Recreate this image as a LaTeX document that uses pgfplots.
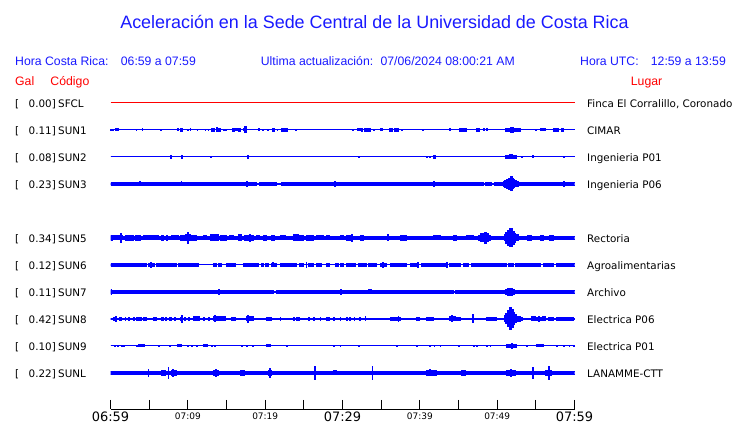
\documentclass[border=0pt]{standalone}
\usepackage{fontspec}
\setmainfont{Liberation Sans}
\newfontfamily\dv{DejaVu Sans}
\usepackage{pgfplots}
\usepackage{pgfplotstable}
\pgfplotsset{compat=1.18}
\usepgfplotslibrary{fillbetween}
\definecolor{tr}{RGB}{0,0,255}
\definecolor{hb}{RGB}{25,25,255}
\definecolor{hr}{RGB}{255,0,0}

% envelope of each record: t = minutes after 06:59, a = half width (px)
\pgfplotstableread[row sep=\\]{t a\\ 0 0\\ 60 0\\}\tsfcl
\pgfplotstableread[row sep=\\]{t a\\ 0 0\\ 0.05 0.6\\ 0.15 0\\ 0.3 0.6\\ 0.4 0\\ 0.62 1.0\\ 1.06 0\\ 3.3 0.7\\ 3.4 0\\ 4.1 1.0\\ 4.2 0\\ 6.44 0.7\\ 6.54 0\\ 8.7 1.0\\ 8.8 0\\ 9.03 1.2\\ 9.25 0\\ 9.93 0.7\\ 10.03 0\\ 10.28 1.0\\ 10.38 0\\ 11.19 0.7\\ 11.29 0\\ 12.22 0.6\\ 12.32 0\\ 12.61 0.6\\ 12.71 0\\ 13.12 1.2\\ 13.47 0\\ 13.73 2.0\\ 13.86 1.3\\ 14.25 0\\ 14.63 0.6\\ 14.73 0\\ 14.85 0.6\\ 14.95 0\\ 15.75 1.5\\ 15.97 0\\ 16.14 1.0\\ 16.36 0\\ 16.49 1.3\\ 16.75 0\\ 17.18 1.0\\ 17.39 3.0\\ 17.65 0\\ 19.16 1.0\\ 19.26 0\\ 19.63 0.7\\ 19.73 0\\ 20.28 0.7\\ 20.38 0\\ 21.01 1.2\\ 21.27 0\\ 21.53 0.7\\ 21.63 0\\ 22.13 1.2\\ 22.87 0\\ 23.94 0.6\\ 24.04 0\\ 31.27 0.6\\ 31.37 0\\ 32.0 1.0\\ 32.27 0\\ 32.52 1.3\\ 32.62 0\\ 32.87 1.2\\ 33.56 0\\ 33.99 0.7\\ 34.09 0\\ 34.94 1.0\\ 35.2 0\\ 36.06 1.2\\ 36.49 0\\ 36.7 1.2\\ 37.27 0\\ 37.65 0.6\\ 37.75 0\\ 40.37 0.6\\ 40.47 0\\ 43.9 1.0\\ 44.0 0\\ 45.07 1.2\\ 46.06 0\\ 47.35 1.2\\ 47.7 0\\ 48.21 1.0\\ 48.31 0\\ 48.65 1.0\\ 48.75 0\\ 51.1 1.5\\ 51.7 2.2\\ 52.1 1.5\\ 52.96 0\\ 54.98 0.7\\ 55.08 0\\ 55.54 1.0\\ 56.27 0\\ 57.27 1.2\\ 57.9 0\\ 58.34 1.2\\ 58.64 0\\ 60 0\\}\tsuna
\pgfplotstableread[row sep=\\]{t a\\ 0 0\\ 7.74 1.3\\ 7.84 0\\ 9.16 1.3\\ 9.29 0\\ 12.91 0.7\\ 13.01 0\\ 17.7 1.2\\ 17.8 0\\ 32.05 0.7\\ 32.15 0\\ 40.9 0.6\\ 41.0 0\\ 41.23 0.7\\ 41.33 0\\ 41.75 1.2\\ 42.0 0\\ 51.1 1.3\\ 51.6 2.0\\ 52.0 1.3\\ 52.5 0\\ 53.17 0.7\\ 53.27 0\\ 54.6 1.0\\ 54.7 0\\ 58.56 0.6\\ 58.66 0\\ 60 0\\}\tsunb
\pgfplotstableread[row sep=\\]{t a\\ 0 1.2\\ 2.44 0.5\\ 2.61 1.2\\ 3.73 2.0\\ 3.83 1.2\\ 4.89 0.5\\ 5.0 1.2\\ 8.77 0.5\\ 8.9 1.2\\ 9.12 2.0\\ 9.22 1.2\\ 10.71 0.5\\ 10.8 1.2\\ 12.0 0.5\\ 12.1 1.2\\ 15.0 0.5\\ 15.1 1.2\\ 15.88 0.5\\ 16.0 1.2\\ 17.61 2.3\\ 17.71 1.2\\ 18.9 0.5\\ 19.3 1.2\\ 19.76 0.5\\ 19.86 1.2\\ 21.5 0.5\\ 22.1 1.2\\ 23.64 0.5\\ 23.74 1.2\\ 28.94 2.3\\ 29.04 1.2\\ 38.3 0.5\\ 38.4 1.2\\ 41.75 2.3\\ 41.85 1.2\\ 48.2 0.5\\ 48.5 1.2\\ 49.3 0.5\\ 49.6 1.2\\ 50.8 2.5\\ 51.0 3.5\\ 51.23 4.5\\ 51.45 5.5\\ 51.75 7.0\\ 52.0 5.0\\ 52.1 4.0\\ 52.3 3.0\\ 52.5 2.3\\ 52.7 1.2\\ 58.56 2.3\\ 58.66 1.2\\ 60 1.2\\}\tsunc
\pgfplotstableread[row sep=\\]{t a\\ 0 2.5\\ 0.28 2.0\\ 1.25 4.5\\ 1.38 2.0\\ 1.57 1.5\\ 1.88 2.2\\ 2.95 1.5\\ 3.17 2.4\\ 3.9 1.5\\ 4.25 2.0\\ 4.9 1.5\\ 5.1 2.0\\ 5.54 1.5\\ 5.75 2.0\\ 6.2 1.5\\ 6.6 2.2\\ 6.8 1.5\\ 7.2 2.7\\ 7.4 1.5\\ 7.9 2.0\\ 8.8 1.5\\ 9.0 2.2\\ 9.76 3.0\\ 9.9 5.8\\ 10.05 3.0\\ 10.28 2.2\\ 11.14 1.5\\ 11.57 1.8\\ 11.8 1.5\\ 12.0 2.0\\ 12.43 1.5\\ 12.87 3.0\\ 13.94 1.5\\ 14.16 2.2\\ 15.02 1.5\\ 15.45 2.0\\ 15.88 1.5\\ 16.53 3.0\\ 16.96 1.5\\ 17.39 2.4\\ 18.0 3.5\\ 18.15 2.4\\ 18.47 1.5\\ 18.9 2.0\\ 19.33 1.5\\ 19.76 2.2\\ 20.2 1.5\\ 20.84 2.2\\ 21.27 1.5\\ 21.92 2.0\\ 22.57 1.5\\ 23.64 3.0\\ 24.29 2.2\\ 24.94 1.5\\ 25.37 2.2\\ 26.23 1.5\\ 26.66 2.0\\ 27.52 1.5\\ 27.95 2.0\\ 28.38 1.5\\ 28.81 1.8\\ 29.24 1.5\\ 29.68 2.0\\ 30.11 1.5\\ 30.54 2.2\\ 31.1 3.5\\ 31.25 1.8\\ 31.8 1.5\\ 32.27 2.2\\ 32.7 1.5\\ 33.99 1.8\\ 34.42 1.5\\ 35.85 3.0\\ 36.0 1.5\\ 37.44 2.2\\ 38.3 1.5\\ 40.02 1.8\\ 40.24 1.5\\ 41.75 2.0\\ 42.61 1.5\\ 44.33 2.2\\ 44.76 1.5\\ 46.06 2.0\\ 46.92 1.5\\ 47.6 2.5\\ 47.9 4.0\\ 48.3 5.5\\ 48.6 4.0\\ 48.85 2.5\\ 49.1 1.5\\ 50.9 3.0\\ 51.1 5.5\\ 51.4 7.5\\ 51.65 9.0\\ 52.0 6.5\\ 52.2 4.5\\ 52.4 3.0\\ 52.7 1.8\\ 53.96 2.2\\ 54.4 1.5\\ 55.54 2.2\\ 56.0 1.7\\ 56.83 2.2\\ 57.27 1.7\\ 60 1.7\\}\tsune
\pgfplotstableread[row sep=\\]{t a\\ 0 1.1\\ 0.37 0\\ 0.58 1.1\\ 1.88 0\\ 2.09 1.1\\ 4.68 0\\ 4.89 1.1\\ 5.2 2.8\\ 5.3 1.1\\ 5.75 0\\ 5.97 1.1\\ 7.05 0\\ 7.26 1.1\\ 8.56 0\\ 8.77 1.1\\ 8.99 0\\ 9.2 1.1\\ 9.85 0\\ 9.94 1.1\\ 11.36 0\\ 13.3 1.1\\ 13.73 0\\ 13.94 1.1\\ 14.38 0\\ 15.02 1.1\\ 16.1 0\\ 17.18 1.1\\ 19.12 0\\ 19.55 1.1\\ 19.76 0\\ 19.98 1.1\\ 20.41 0\\ 20.84 1.1\\ 21.0 2.0\\ 21.1 1.1\\ 21.49 0\\ 21.92 1.1\\ 24.07 0\\ 24.38 1.1\\ 24.94 0\\ 25.3 2.3\\ 25.4 0\\ 25.58 1.1\\ 26.23 0\\ 26.66 1.1\\ 27.31 0\\ 27.95 1.1\\ 28.38 0\\ 29.03 1.1\\ 29.46 0\\ 29.68 1.1\\ 30.11 0\\ 30.54 1.1\\ 31.62 0\\ 32.05 1.1\\ 33.13 0\\ 33.34 1.1\\ 34.42 0\\ 34.85 1.1\\ 35.15 2.3\\ 35.25 1.1\\ 35.71 0\\ 36.15 1.1\\ 37.44 0\\ 37.65 1.1\\ 38.3 0\\ 38.73 1.1\\ 39.59 0\\ 39.7 2.3\\ 39.8 0\\ 40.24 1.1\\ 43.47 0\\ 43.5 2.3\\ 43.6 0\\ 43.9 1.1\\ 45.2 0\\ 45.63 1.1\\ 46.27 0\\ 46.7 1.1\\ 51.23 0\\ 51.45 1.1\\ 52.09 0\\ 52.31 1.1\\ 55.54 0\\ 55.97 1.1\\ 57.27 0\\ 57.7 1.1\\ 60 1.1\\}\tsunf
\pgfplotstableread[row sep=\\]{t a\\ 0 2.2\\ 0.15 1.2\\ 4.9 0.3\\ 5.1 1.2\\ 7.3 1.6\\ 7.4 1.2\\ 8.5 0.3\\ 8.7 1.2\\ 11.3 1.9\\ 11.45 1.2\\ 14.0 2.2\\ 14.15 1.2\\ 17.4 0.3\\ 17.6 1.2\\ 21.06 0.3\\ 21.5 1.2\\ 25.8 1.7\\ 25.9 1.2\\ 29.75 2.2\\ 29.85 1.2\\ 33.3 2.0\\ 33.8 1.2\\ 38.5 1.6\\ 38.6 1.2\\ 43.4 1.7\\ 43.55 1.2\\ 44.33 0.5\\ 44.6 1.2\\ 51.1 2.2\\ 51.4 3.2\\ 52.0 2.2\\ 52.3 1.2\\ 55.5 1.7\\ 55.6 1.2\\ 60 1.2\\}\tsung
\pgfplotstableread[row sep=\\]{t a\\ 0 0.9\\ 0.37 1.8\\ 0.7 2.5\\ 0.8 0.9\\ 1.14 1.8\\ 1.44 0.9\\ 1.88 1.8\\ 1.98 0.9\\ 2.31 1.8\\ 2.52 0.9\\ 2.95 1.5\\ 3.05 0.9\\ 3.38 1.8\\ 4.03 0.9\\ 4.25 1.5\\ 4.68 0.9\\ 5.54 1.5\\ 5.97 0.9\\ 6.61 1.8\\ 6.83 0.9\\ 7.05 1.5\\ 7.26 0.9\\ 7.69 1.5\\ 7.91 0.9\\ 8.34 1.5\\ 8.44 0.9\\ 8.99 1.8\\ 9.15 3.5\\ 9.25 1.8\\ 9.33 0.9\\ 9.63 1.5\\ 9.73 0.9\\ 10.06 1.5\\ 10.16 0.9\\ 10.71 2.0\\ 11.57 0.9\\ 12.0 1.5\\ 12.1 0.9\\ 12.65 1.5\\ 12.75 0.9\\ 13.3 2.0\\ 13.45 3.0\\ 13.6 2.0\\ 14.81 0.9\\ 15.67 1.5\\ 16.1 0.9\\ 17.61 2.0\\ 17.7 3.5\\ 17.8 2.0\\ 18.47 0.9\\ 20.2 1.8\\ 20.84 0.9\\ 21.92 1.5\\ 22.02 0.9\\ 23.64 1.5\\ 23.74 0.9\\ 24.07 1.8\\ 24.5 0.9\\ 25.58 1.5\\ 25.68 0.9\\ 26.23 1.5\\ 26.33 0.9\\ 27.09 1.5\\ 27.19 0.9\\ 27.95 1.5\\ 28.38 0.9\\ 28.81 1.5\\ 28.91 0.9\\ 29.68 1.5\\ 29.78 0.9\\ 30.54 1.5\\ 30.64 0.9\\ 30.9 1.5\\ 31.0 0.9\\ 31.5 1.5\\ 31.6 0.9\\ 32.2 1.5\\ 32.3 0.9\\ 32.91 2.0\\ 33.01 0.9\\ 36.15 1.8\\ 37.2 2.5\\ 37.3 1.8\\ 37.44 0.9\\ 39.6 1.5\\ 40.02 0.9\\ 40.89 1.6\\ 41.75 0.9\\ 43.9 2.0\\ 44.1 3.0\\ 44.2 2.0\\ 44.55 0.9\\ 44.77 1.8\\ 45.2 0.9\\ 46.8 4.0\\ 46.9 0.9\\ 48.65 1.3\\ 49.94 0.9\\ 50.9 3.0\\ 51.1 5.0\\ 51.35 8.0\\ 51.6 11.0\\ 51.85 9.0\\ 52.05 6.0\\ 52.25 4.0\\ 52.5 2.5\\ 53.0 1.5\\ 53.3 0.9\\ 54.46 2.0\\ 55.0 1.5\\ 55.3 2.3\\ 55.5 1.5\\ 55.8 2.0\\ 56.2 0.9\\ 56.62 1.5\\ 57.27 0.9\\ 57.7 1.5\\ 58.3 1.2\\ 58.7 1.6\\ 59.85 0.9\\ 60 0.9\\}\tsunh
\pgfplotstableread[row sep=\\]{t a\\ 0 0\\ 0.58 0.7\\ 0.68 0\\ 0.88 0.7\\ 0.98 0\\ 1.44 0.7\\ 1.54 0\\ 1.66 0.6\\ 1.76 0\\ 3.3 0.7\\ 3.6 1.0\\ 4.46 0\\ 6.2 0.7\\ 6.3 0\\ 7.69 0.7\\ 7.79 0\\ 8.64 1.0\\ 9.2 0\\ 9.94 0.7\\ 10.04 0\\ 10.5 0.7\\ 10.6 0\\ 11.14 0.7\\ 11.24 0\\ 12.0 1.0\\ 12.52 0\\ 13.08 0.7\\ 13.18 0\\ 13.51 0.7\\ 13.61 0\\ 16.96 0.7\\ 17.06 0\\ 17.61 0.7\\ 17.71 0\\ 18.4 0.7\\ 18.5 0\\ 20.2 1.0\\ 20.63 0\\ 22.78 0.7\\ 22.88 0\\ 28.81 0.8\\ 28.91 0\\ 29.68 0.7\\ 29.78 0\\ 32.05 0.7\\ 32.15 0\\ 37.0 0.6\\ 37.1 0\\ 39.6 0.7\\ 39.7 0\\ 41.3 0.8\\ 41.4 0\\ 41.86 0.8\\ 41.96 0\\ 42.61 0.7\\ 42.71 0\\ 44.98 0.7\\ 45.08 0\\ 46.92 0.7\\ 47.02 0\\ 47.35 0.7\\ 47.45 0\\ 48.65 0.7\\ 48.75 0\\ 49.08 0.7\\ 49.18 0\\ 51.23 1.5\\ 51.8 2.2\\ 52.0 1.5\\ 52.53 0\\ 53.82 0.7\\ 53.92 0\\ 55.1 1.0\\ 55.97 0\\ 57.7 0.7\\ 57.8 0\\ 58.56 0.7\\ 58.66 0\\ 59.3 0.7\\ 59.4 0\\ 59.85 0.7\\ 59.95 0\\ 60 0\\}\tsuni
\pgfplotstableread[row sep=\\]{t a\\ 0 1.8\\ 0.37 1.2\\ 2.95 1.8\\ 3.38 1.2\\ 4.85 3.5\\ 4.95 1.2\\ 6.61 2.2\\ 7.05 1.2\\ 7.45 5.3\\ 7.55 1.2\\ 7.91 2.8\\ 8.05 3.5\\ 8.15 2.8\\ 8.56 1.2\\ 8.99 1.8\\ 9.09 1.2\\ 11.57 1.8\\ 12.43 1.2\\ 13.3 2.8\\ 13.6 3.8\\ 13.7 2.8\\ 13.94 1.2\\ 14.81 1.8\\ 15.45 1.2\\ 16.75 2.5\\ 17.39 1.2\\ 18.47 1.8\\ 18.9 1.2\\ 20.41 2.2\\ 20.6 4.2\\ 20.7 2.2\\ 20.84 1.2\\ 21.92 1.6\\ 22.78 1.2\\ 24.07 1.8\\ 24.5 1.2\\ 26.4 6.2\\ 26.5 1.2\\ 28.81 2.0\\ 29.24 1.2\\ 30.54 1.8\\ 30.64 1.2\\ 31.4 1.6\\ 31.5 1.2\\ 33.82 6.2\\ 33.92 1.2\\ 38.09 1.8\\ 38.19 1.2\\ 39.6 1.8\\ 39.7 1.2\\ 40.89 2.2\\ 41.3 3.0\\ 41.4 2.2\\ 42.18 1.2\\ 43.69 1.8\\ 43.79 1.2\\ 45.41 2.5\\ 45.84 1.2\\ 49.51 1.8\\ 49.94 1.2\\ 51.23 2.5\\ 51.7 3.2\\ 51.85 2.5\\ 52.31 1.2\\ 53.82 1.8\\ 54.46 1.2\\ 54.57 5.3\\ 54.67 1.2\\ 55.1 1.8\\ 55.54 1.2\\ 56.19 2.5\\ 56.7 6.5\\ 56.8 2.5\\ 57.05 1.2\\ 57.7 1.6\\ 59.85 1.2\\ 60 1.2\\}\tsunl

% #1 table, #2 row (px from top), #3 colour
\newcommand\trace[3]{%
  \addplot[#3, line width=1bp, const plot, name path=u#2] table[x=t, y expr={#2-\thisrow{a}}] {#1};
  \addplot[#3, line width=1bp, const plot, name path=l#2] table[x=t, y expr={#2+\thisrow{a}}] {#1};
  \addplot[#3, draw=none] fill between[of=u#2 and l#2];
}
\newcommand\stn[4]{%
  \node[anchor=base west] at (15,#1+4.2) {[};
  \node[anchor=base east] at (56,#1+4.2) {#2]};
  \node[anchor=base west] at (58,#1+4.2) {#3};
  \node[anchor=base west] at (587,#1+4.2) {#4};
}

\begin{document}
\begin{tikzpicture}
\begin{axis}[
  at={(0,0)}, anchor=south west,
  width=740bp, height=423bp, scale only axis,
  hide axis, clip=false,
  xmin=-14.289, xmax=81.401,
  ymin=0, ymax=423, y dir=reverse,
]
\addplot[hr, line width=1bp, const plot] table[x=t, y expr={103-\thisrow{a}}] {\tsfcl};
\trace{\tsuna}{130}{tr}
\trace{\tsunb}{157}{tr}
\trace{\tsunc}{184}{tr}
\trace{\tsune}{238}{tr}
\trace{\tsunf}{265}{tr}
\trace{\tsung}{292}{tr}
\trace{\tsunh}{319}{tr}
\trace{\tsuni}{346}{tr}
\trace{\tsunl}{373}{tr}
% time axis
\draw[black, line width=1bp] (axis cs:0,409.5) -- (axis cs:60,409.5);
\pgfplotsinvokeforeach{0,5,10,15,20,25,30,35,40,45,50,55,60}{
  \draw[black, line width=1bp] (axis cs:#1,400) -- (axis cs:#1,409.5);
}
\node[anchor=base, font=\dv\fontsize{13}{15}\selectfont, inner sep=0] at (axis cs:0,421) {06:59};
\node[anchor=base, font=\dv\fontsize{13}{15}\selectfont, inner sep=0] at (axis cs:30,421) {07:29};
\node[anchor=base, font=\dv\fontsize{13}{15}\selectfont, inner sep=0] at (axis cs:60,421) {07:59};
\node[anchor=base, font=\dv\fontsize{9}{10}\selectfont, inner sep=0] at (axis cs:10,419) {07:09};
\node[anchor=base, font=\dv\fontsize{9}{10}\selectfont, inner sep=0] at (axis cs:20,419) {07:19};
\node[anchor=base, font=\dv\fontsize{9}{10}\selectfont, inner sep=0] at (axis cs:40,419) {07:39};
\node[anchor=base, font=\dv\fontsize{9}{10}\selectfont, inner sep=0] at (axis cs:50,419) {07:49};
\end{axis}

\begin{scope}[shift={(0bp,423bp)}, x=1bp, y=-1bp, every node/.style={inner sep=0}]
\node[anchor=base, text=hb, font=\fontsize{18}{21}\selectfont] at (374.5,29) {Aceleración en la Sede Central de la Universidad de Costa Rica};
\begin{scope}[every node/.append style={text=hb, font=\fontsize{12.3}{14}\selectfont, anchor=base west}]
\node at (15,65.5) {Hora Costa Rica:};
\node at (120.7,65.5) {06:59 a 07:59};
\node at (260.7,65.5) {Ultima actualización:\hspace{0.6em}07/06/2024 08:00:21 AM};
\node at (580,65.5) {Hora UTC:};
\node at (650.7,65.5) {12:59 a 13:59};
\end{scope}
\begin{scope}[every node/.append style={text=hr, font=\fontsize{12.3}{14}\selectfont, anchor=base west}]
\node at (15,85.5) {Gal};
\node at (50.3,85.5) {Código};
\node at (630.7,85.5) {Lugar};
\end{scope}
\begin{scope}[every node/.append style={font=\dv\fontsize{10.4}{12}\selectfont}]
\stn{103}{0.00}{SFCL}{Finca El Corralillo, Coronado}
\stn{130}{0.11}{SUN1}{CIMAR}
\stn{157}{0.08}{SUN2}{Ingenieria P01}
\stn{184}{0.23}{SUN3}{Ingenieria P06}
\stn{238}{0.34}{SUN5}{Rectoria}
\stn{265}{0.12}{SUN6}{Agroalimentarias}
\stn{292}{0.11}{SUN7}{Archivo}
\stn{319}{0.42}{SUN8}{Electrica P06}
\stn{346}{0.10}{SUN9}{Electrica P01}
\stn{373}{0.22}{SUNL}{LANAMME-CTT}
\end{scope}
\end{scope}
\pgfresetboundingbox
\path (0,0) rectangle (740bp,423bp);
\end{tikzpicture}
\end{document}
